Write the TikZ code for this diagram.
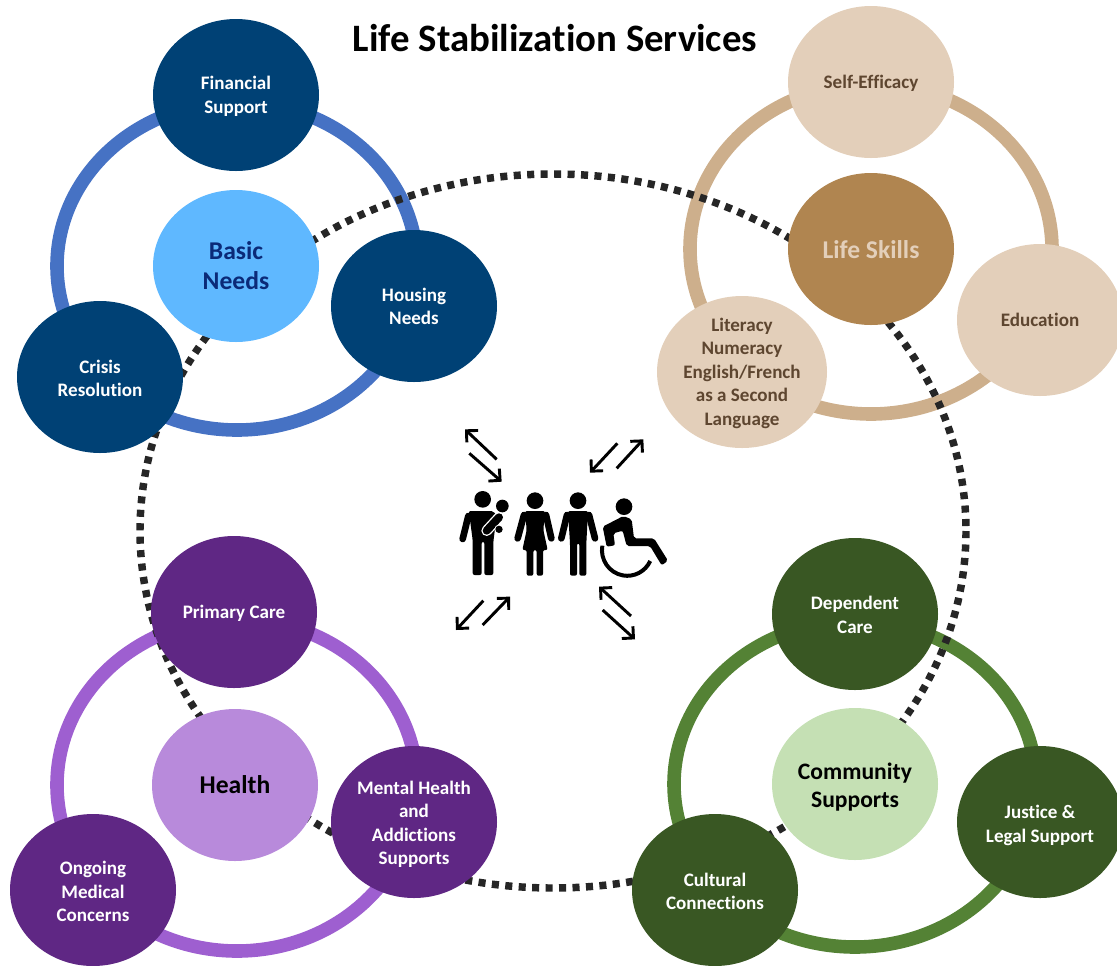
\documentclass[tikz,border=0pt]{standalone}
\usepackage{fontspec}
\setmainfont{Carlito}[BoldFont=Carlito Bold,Ligatures=CommonOff]
\usetikzlibrary{arrows.meta,shapes.geometric}
\newcommand{\liftline}[1]{\rule{0pt}{#1pt}}
\definecolor{navy}{HTML}{004175}
\definecolor{navyt}{HTML}{0B2A78}
\definecolor{skyb}{HTML}{5FB8FF}
\definecolor{ringb}{HTML}{4672C4}
\definecolor{tanl}{HTML}{E3CFBA}
\definecolor{tanm}{HTML}{B08550}
\definecolor{ringt}{HTML}{CDAF8C}
\definecolor{tant}{HTML}{5E4630}
\definecolor{purd}{HTML}{5F2784}
\definecolor{purl}{HTML}{B88ADB}
\definecolor{ringp}{HTML}{9E5FD0}
\definecolor{grnd}{HTML}{395723}
\definecolor{grnl}{HTML}{C5E0B4}
\definecolor{ringg}{HTML}{548235}
\definecolor{dotc}{HTML}{262626}
\tikzset{
  x=0.75pt,y=-0.75pt,
  blob/.style={ellipse,minimum width=124.5pt,minimum height=114pt,inner sep=0pt,align=center,font=\bfseries\fontsize{14.3}{17.7}\selectfont},
  ring/.style={line width=10.2pt,draw},
  bign/.style={blob,fill=navy,text=white},
  bigp/.style={blob,fill=purd,text=white},
  bigg/.style={blob,fill=grnd,text=white},
  bigt/.style={blob,fill=tanl,text=tant},
  arr/.style={line width=2.2pt,-{Straight Barb[length=6.2pt,width=12.4pt,line width=2.2pt]}},
  limb/.style={line width=5pt,line cap=round,draw=black},
}
\begin{document}
\begin{tikzpicture}
\useasboundingbox (0,0) rectangle (1117,965);
% rings
\draw[ring,ringb] (237,266) ellipse[x radius=180,y radius=164];
\draw[ring,ringt] (871,249) ellipse[x radius=181,y radius=165];
\draw[ring,ringp] (237,785) ellipse[x radius=180,y radius=166];
\draw[ring,ringg] (855,784) ellipse[x radius=181,y radius=163];
% dotted circle
\draw[dotc,line width=5.6pt,dash pattern=on 5.3pt off 4.8pt] (553,531) ellipse[x radius=413,y radius=357];
% title
\node[font=\bfseries\fontsize{29.1}{34}\selectfont] (title) at (555,38) {Life Stabilization Services};
% basic needs
\node[bign] (fin) at (236,95) {\liftline{12}Financial\\Support};
\node[blob,fill=skyb,text=navyt,font=\bfseries\fontsize{19.2}{22.5}\selectfont] (basic) at (236,266) {Basic\\Needs};
\node[bign] (house) at (414,306) {\liftline{10.5}Housing\\Needs};
\node[bign] (crisis) at (100,377) {\liftline{12}Crisis\\Resolution};
% life skills
\node[bigt] (self) at (871,82) {\liftline{12.5}Self-Efficacy};
\node[blob,fill=tanm,text=tanl,font=\bfseries\fontsize{19.2}{22}\selectfont] (life) at (871,249) {\liftline{14}Life Skills};
\node[bigt] (edu) at (1040,320) {Education};
\node[bigt,minimum width=127.5pt,inner sep=-12pt] (lit) at (742,372) {\liftline{12}Literacy\\Numeracy\\English/French\\as a Second\\Language};
% health
\node[bigp] (prim) at (234,612) {\liftline{11.5}Primary Care};
\node[blob,fill=purl,text=black,font=\bfseries\fontsize{19.2}{22}\selectfont] (health) at (235,785) {Health};
\node[bigp] (mental) at (414,822) {\liftline{13.5}Mental Health\\and\\Addictions\\Supports};
\node[bigp] (ongoing) at (93,890) {\liftline{12.5}Ongoing\\Medical\\Concerns};
% community
\node[bigg] (dep) at (855,614) {\liftline{11.5}Dependent\\Care};
\node[blob,fill=grnl,text=black,font=\bfseries\fontsize{17.7}{21}\selectfont] (comm) at (855,784) {\liftline{16.5}Community\\Supports};
\node[bigg] (just) at (1040,822) {\liftline{15.5}Justice \&\\Legal Support};
\node[bigg] (cult) at (715,890) {\liftline{12}Cultural\\Connections};
% central figures and arrows
\begin{scope}[shift={(430,410)},x=0.25pt,y=-0.25pt]
  \coordinate (a1s) at (200,148); \coordinate (a1e) at (105,58);
  \coordinate (a2s) at (118,130); \coordinate (a2e) at (215,215);
  \coordinate (b1s) at (562,100); \coordinate (b1e) at (480,188);
  \coordinate (b2s) at (560,175); \coordinate (b2e) at (640,88);
  \coordinate (c1s) at (160,572); \coordinate (c1e) at (78,660);
  \coordinate (c2s) at (158,645); \coordinate (c2e) at (240,560);
  \coordinate (d1s) at (603,618); \coordinate (d1e) at (507,530);
  \coordinate (d2s) at (518,600); \coordinate (d2e) at (615,688);
  \foreach \s/\e in {a1s/a1e,a2s/a2e,b1s/b1e,b2s/b2e,c1s/c1e,c2s/c2e,d1s/d1e,d2s/d2e}
    \draw[arr] (\s) -- (\e);
  % father
  \fill (158,268) circle[radius=25];
  \fill[rounded corners=1.5pt] (116,303) -- (190,303) -- (200,318) -- (190,395) -- (190,495) -- (163,495) -- (163,395) -- (155,395) -- (155,495) -- (128,495) -- (128,390) -- (120,330) -- cycle;
  \draw[limb] (115,318) -- (98,387);
  \fill (217,288) circle[radius=19];
  \draw[white,line width=8pt,line cap=round] (207,322) -- (170,362);
  \draw[black,line width=6pt,line cap=round] (207,322) -- (170,362);
  \fill[white] (207,358) circle[radius=14];
  \fill (207,358) circle[radius=11];
  % woman
  \fill (315,272) circle[radius=25];
  \fill[rounded corners=1.5pt] (285,303) -- (345,303) -- (340,360) -- (353,420) -- (339,420) -- (339,497) -- (320,497) -- (320,420) -- (310,420) -- (310,497) -- (290,497) -- (290,420) -- (277,420) -- (290,360) -- cycle;
  \draw[limb] (282,315) -- (263,385);
  \draw[limb] (348,315) -- (364,385);
  % man
  \fill (444,272) circle[radius=25];
  \fill[rounded corners=1.5pt] (414,303) -- (474,303) -- (469,400) -- (469,497) -- (448,497) -- (448,400) -- (441,400) -- (441,497) -- (420,497) -- (420,400) -- cycle;
  \draw[limb] (411,315) -- (394,385);
  \draw[limb] (477,315) -- (495,385);
  % wheelchair
  \fill (582,290) circle[radius=25];
  \fill[rounded corners=1.5pt] (518,350) -- (580,318) -- (605,328) -- (612,385) -- (672,385) -- (714,452) -- (695,466) -- (660,408) -- (590,408) -- (578,362) -- (550,370) -- (555,406) -- (530,410) -- cycle;
  \draw[line width=3pt] (517,407) arc[start angle=190,end angle=25,x radius=76,y radius=77];
\end{scope}
\end{tikzpicture}
\end{document}
